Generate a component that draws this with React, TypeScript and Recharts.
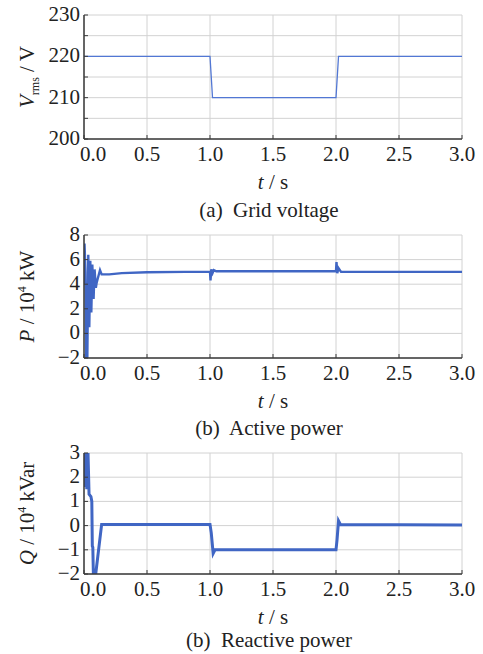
import React from 'react';
import { LineChart, Line, XAxis, YAxis, CartesianGrid } from 'recharts';

const FONT = 'Liberation Serif';

const timeTicks = [0, 0.5, 1, 1.5, 2, 2.5, 3];

const voltageTime = [0, 1.0, 1.02, 2.0, 2.02, 3.0];
const voltageValues = [220, 220, 210, 210, 220, 220];
const voltageTicks = [200, 205, 210, 215, 220, 225, 230];

const activeTime = [0, 0.004, 0.012, 0.018, 0.026, 0.034, 0.042, 0.05, 0.058, 0.066, 0.076, 0.084, 0.094, 0.1, 0.127, 0.14, 0.2, 0.3, 0.5, 0.8, 1.0, 1.004, 1.01, 1.02, 1.03, 1.05, 2.0, 2.004, 2.01, 2.02, 2.04, 3.0];
const activeValues = [4.0, 7.3, 5.0, -2.5, -2.5, 6.4, 0.5, 5.9, 1.7, 5.6, 2.8, 5.2, 3.7, 4.1, 5.15, 4.8, 4.8, 4.9, 4.97, 5.0, 5.0, 4.3, 5.2, 4.9, 5.15, 5.05, 5.05, 5.8, 4.9, 5.3, 5.0, 5.0];
const activeTicks = [-2, 0, 2, 4, 6, 8];

const reactiveTime = [0, 0.006, 0.01, 0.016, 0.022, 0.03, 0.04, 0.055, 0.062, 0.066, 0.07, 0.076, 0.086, 0.093, 0.14, 0.2, 1.0, 1.01, 1.025, 1.04, 2.0, 2.008, 2.02, 2.035, 3.0];
const reactiveValues = [3.5, 3.5, 1.6, 3.5, 1.5, 3.4, 1.3, 1.2, 1.0, -0.85, -0.9, -2.4, -2.5, -2.0, 0.05, 0.05, 0.05, -0.3, -1.15, -1.0, -1.0, -0.6, 0.2, 0.05, 0.02];
const reactiveTicks = [-2, -1, 0, 1, 2, 3];

const minus = (v: number) => String(v).replace('-', '\u2212');

type PanelProps = {
  top: number;
  height: number;
  plotTop: number;
  plotBottom: number;
  captionY: number;
  times: number[];
  values: number[];
  ticks: number[];
  domain: [number, number];
  tickFmt: (v: number) => string;
  yLabel: React.ReactNode;
  caption: string;
  color: string;
  strokeWidth: number;
};

const PLOT_LEFT = 84;
const PLOT_RIGHT = 462;
const W = 483;
const Y_W = 50;
const X_H = 40;

const XTick = (props: any) => {
  const { x, y, payload } = props;
  const shift = payload.value === 0 ? 9 : 0;
  return (
    <text x={x + shift} y={y + 26} textAnchor="middle" fontFamily={FONT} fontSize={21} fill="#222">
      {Number(payload.value).toFixed(1)}
    </text>
  );
};

function makeYTick(fmt: (v: number) => string) {
  return (props: any) => {
    const { y, payload } = props;
    return (
      <text x={PLOT_LEFT - 4} y={y + 6} textAnchor="end" fontFamily={FONT} fontSize={21} fill="#222">
        {fmt(payload.value)}
      </text>
    );
  };
}

function Panel(p: PanelProps) {
  const data = p.times.map((t, i) => ({ t, v: p.values[i] }));
  const margin = {
    top: p.plotTop,
    left: PLOT_LEFT - Y_W,
    right: W - PLOT_RIGHT,
    bottom: p.height - p.plotBottom - X_H,
  };
  return (
    <div style={{ position: 'absolute', left: 0, top: p.top, width: W, height: p.height, fontFamily: FONT }}>
      <LineChart width={W} height={p.height} data={data} margin={margin}>
        <CartesianGrid stroke="#d2d2d2" strokeWidth={1} />
        <XAxis
          dataKey="t"
          type="number"
          domain={[0, 3]}
          ticks={timeTicks}
          height={X_H}
          tickSize={-4}
          tickMargin={0}
          axisLine={{ stroke: '#3a3a3a', strokeWidth: 1.5 }}
          tickLine={{ stroke: '#3a3a3a' }}
          tick={<XTick />}
          interval={0}
          allowDataOverflow
          label={{
            content: (props: any) => {
              const vb = props.viewBox;
              const cx = vb.x + vb.width / 2;
              return (
                <text x={cx} y={vb.y + 50} textAnchor="middle" fontFamily={FONT} fontSize={21} fill="#222">
                  <tspan fontStyle="italic">t</tspan>
                  <tspan> / s</tspan>
                </text>
              );
            },
          }}
        />
        <XAxis
          xAxisId="top"
          orientation="top"
          dataKey="t"
          type="number"
          domain={[0, 3]}
          ticks={timeTicks}
          tickFormatter={() => ''}
          height={0}
          tickSize={-4}
          axisLine={{ stroke: '#3a3a3a', strokeWidth: 1.5 }}
          tickLine={{ stroke: '#3a3a3a' }}
          interval={0}
        />
        <YAxis
          type="number"
          domain={p.domain}
          ticks={p.ticks}
          width={Y_W}
          tickSize={-4}
          tickMargin={0}
          axisLine={{ stroke: '#3a3a3a', strokeWidth: 1.5 }}
          tickLine={{ stroke: '#3a3a3a' }}
          tick={makeYTick(p.tickFmt)}
          interval={0}
          allowDataOverflow
          label={{
            content: () => {
              const cy = (p.plotTop + p.plotBottom) / 2;
              return (
                <text transform={`translate(34, ${cy}) rotate(-90)`} textAnchor="middle" fontFamily={FONT} fontSize={21} fill="#222">
                  {p.yLabel}
                </text>
              );
            },
          }}
        />
        <YAxis
          yAxisId="right"
          orientation="right"
          type="number"
          domain={p.domain}
          ticks={p.ticks}
          tickFormatter={() => ''}
          width={0}
          tickSize={-4}
          axisLine={{ stroke: '#3a3a3a', strokeWidth: 1.5 }}
          tickLine={{ stroke: '#3a3a3a' }}
          interval={0}
          allowDataOverflow
        />
        <Line
          type="linear"
          dataKey="v"
          stroke={p.color}
          strokeWidth={p.strokeWidth}
          dot={false}
          isAnimationActive={false}
        />
      </LineChart>
      <div
        style={{
          position: 'absolute',
          left: 0,
          width: 2 * 269,
          top: p.captionY - 13,
          height: 26,
          lineHeight: '26px',
          textAlign: 'center',
          fontSize: 21,
          color: '#222',
          whiteSpace: 'pre',
          fontFamily: FONT,
        }}
      >
        {p.caption}
      </div>
    </div>
  );
}

export default function App() {
  return (
    <div style={{ position: 'absolute', left: 0, top: 0, width: 483, height: 654, background: '#fff', overflow: 'hidden' }}>
      <Panel
        top={0}
        height={220}
        plotTop={15}
        plotBottom={139}
        captionY={210}
        times={voltageTime}
        values={voltageValues}
        ticks={voltageTicks}
        domain={[200, 230]}
        tickFmt={(v: number) => (v % 10 === 0 ? String(v) : '')}
        yLabel={
          <>
            <tspan fontStyle="italic">V</tspan>
            <tspan fontSize={12} dy={5}>rms</tspan>
            <tspan dy={-5}> / V</tspan>
          </>
        }
        caption="(a)  Grid voltage"
        color="#5277d4"
        strokeWidth={1.3}
      />
      <Panel
        top={220}
        height={210}
        plotTop={15}
        plotBottom={138}
        captionY={208}
        times={activeTime}
        values={activeValues}
        ticks={activeTicks}
        domain={[-2, 8]}
        tickFmt={minus}
        yLabel={
          <>
            <tspan fontStyle="italic">P</tspan>
            <tspan> / 10</tspan>
            <tspan fontSize={12} dy={-8}>4</tspan>
            <tspan dy={8}> kW</tspan>
          </>
        }
        caption="(b)  Active power"
        color="#4066c4"
        strokeWidth={2.4}
      />
      <Panel
        top={430}
        height={224}
        plotTop={23}
        plotBottom={144}
        captionY={210}
        times={reactiveTime}
        values={reactiveValues}
        ticks={reactiveTicks}
        domain={[-2, 3]}
        tickFmt={minus}
        yLabel={
          <>
            <tspan fontStyle="italic">Q</tspan>
            <tspan> / 10</tspan>
            <tspan fontSize={12} dy={-8}>4</tspan>
            <tspan dy={8}> kVar</tspan>
          </>
        }
        caption="(b)  Reactive power"
        color="#4066c4"
        strokeWidth={3}
      />
    </div>
  );
}
